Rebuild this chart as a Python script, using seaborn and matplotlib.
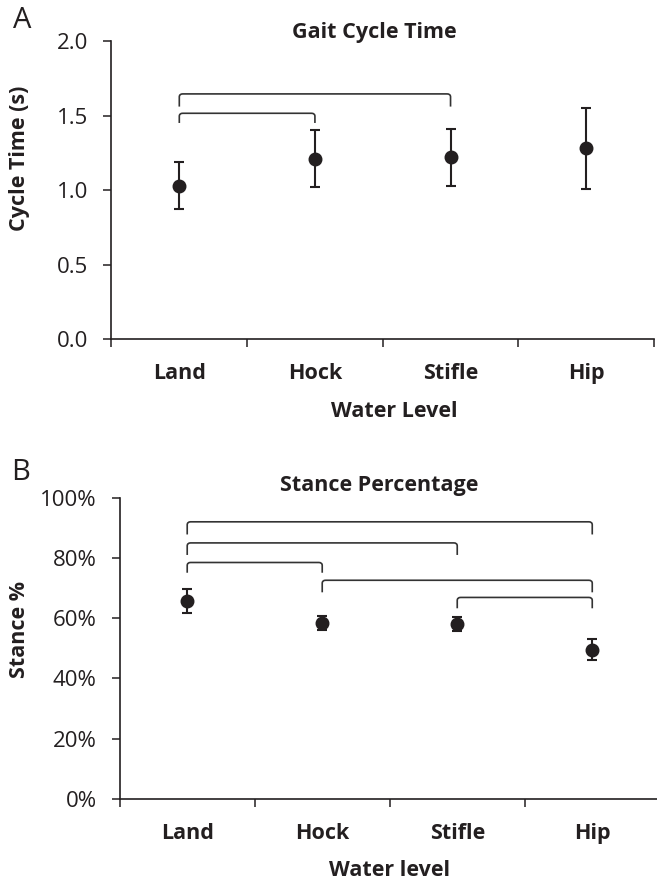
import numpy as np
import pandas as pd
import matplotlib
matplotlib.use("Agg")
import matplotlib.pyplot as plt
import seaborn as sns
from matplotlib.path import Path
from matplotlib.patches import PathPatch
from matplotlib.ticker import FixedLocator, FuncFormatter

categories = ["Land", "Hock", "Stifle", "Hip"]
cycle_mean = [1.03, 1.21, 1.22, 1.28]
cycle_err = [0.16, 0.19, 0.19, 0.27]
stance_mean = [65.8, 58.4, 58.0, 49.6]
stance_err = [3.9, 2.3, 2.3, 3.5]

cycle_yticks = [0.0, 0.5, 1.0, 1.5, 2.0]
stance_yticks = [0, 20, 40, 60, 80, 100]

# significance brackets: (from category, to category, bar level, leg bottom)
cycle_brackets = [(0, 2, 1.645, 1.56), (0, 1, 1.515, 1.45)]
stance_brackets = [(0, 3, 92.0, 87.8), (0, 2, 85.0, 81.0), (0, 1, 78.5, 75.1),
                   (1, 3, 72.6, 68.6), (2, 3, 66.9, 63.3)]

sns.set_style("ticks")
plt.rcParams['font.family'] = ['Open Sans', 'DejaVu Sans']
INK = "#231f20"
BOLD = 15.5

fig = plt.figure(figsize=(6.57, 8.82), dpi=100)
axA = fig.add_axes([0.1697, 0.6156, 0.8257, 0.3379])
axB = fig.add_axes([0.1822, 0.0941, 0.822, 0.3416])


def bracket(ax, x1, x2, ytop, ybot, rx, ry):
    verts = [(x1, ybot), (x1, ytop - ry), (x1, ytop), (x1 + rx, ytop),
             (x2 - rx, ytop), (x2, ytop), (x2, ytop - ry), (x2, ybot)]
    codes = [Path.MOVETO, Path.LINETO, Path.CURVE3, Path.CURVE3,
             Path.LINETO, Path.CURVE3, Path.CURVE3, Path.LINETO]
    ax.add_patch(PathPatch(Path(verts, codes), fill=False, edgecolor="#333333",
                           lw=1.2, capstyle='butt', joinstyle='round'))


def panel(ax, means, errs, yticks, ylim, fmt, brackets, ry, title, ylabel, xlabel,
          tpos, ylpos, xlpos):
    df = pd.DataFrame({"level": categories, "value": means})
    sns.pointplot(data=df, x="level", y="value", ax=ax, color=INK,
                  linestyle="none", markers="o", markersize=8, errorbar=None)
    ax.errorbar(np.arange(len(categories)), means, yerr=errs, fmt="none",
                ecolor=INK, elinewidth=1.5, capsize=3.6, capthick=1.5)
    for i, j, top, bot in brackets:
        bracket(ax, i, j, top, bot, 0.025, ry)
    ax.set_xlim(-0.5, len(categories) - 0.5)
    ax.set_ylim(*ylim)
    ax.yaxis.set_major_locator(FixedLocator(yticks))
    ax.yaxis.set_major_formatter(FuncFormatter(fmt))
    ax.set_xticks(np.arange(len(categories)))
    ax.set_xticklabels(categories, fontsize=BOLD, fontweight='bold', color=INK)
    ax.set_xticks(np.arange(len(categories) + 1) - 0.5, minor=True)
    ax.tick_params(axis='x', which='major', length=0, pad=17)
    ax.tick_params(axis='x', which='minor', length=5.5, width=1.1, color=INK)
    ax.tick_params(axis='y', length=5.5, width=1.1, color=INK, labelsize=16,
                   labelcolor=INK, pad=11)
    for s in ['top', 'right']:
        ax.spines[s].set_visible(False)
    for s in ['left', 'bottom']:
        ax.spines[s].set_linewidth(1.2)
        ax.spines[s].set_color(INK)
    ax.set_xlabel("")
    ax.set_ylabel("")
    ax.text(tpos[0], tpos[1], title, transform=ax.transAxes, ha='center', va='center',
            fontsize=BOLD, fontweight='bold', color=INK)
    ax.text(ylpos[0], ylpos[1], ylabel, transform=ax.transAxes, ha='center',
            va='center', rotation=90, fontsize=BOLD, fontweight='bold', color=INK)
    ax.text(xlpos[0], xlpos[1], xlabel, transform=ax.transAxes, ha='center',
            va='center', fontsize=BOLD, fontweight='bold', color=INK)
    ax.set_facecolor('white')


panel(axA, cycle_mean, cycle_err, cycle_yticks, (0, 2.0), lambda v, p: f"{v:.1f}",
      cycle_brackets, 0.02, "Gait Cycle Time", "Cycle Time (s)", "Water Level",
      (0.484, 1.030), (-0.169, 0.607), (0.521, -0.242))
panel(axB, stance_mean, stance_err, stance_yticks, (0, 100), lambda v, p: f"{v:.0f}%",
      stance_brackets, 1.0, "Stance Percentage", "Stance %", "Water level",
      (0.480, 1.040), (-0.185, 0.561), (0.50, -0.236))

fig.text(22 / 657, 1 - 20 / 882, "A", ha='center', va='center', fontsize=21, color=INK)
fig.text(21 / 657, 1 - 473 / 882, "B", ha='center', va='center', fontsize=21, color=INK)

fig.savefig("out.png", dpi=100, facecolor='white')
